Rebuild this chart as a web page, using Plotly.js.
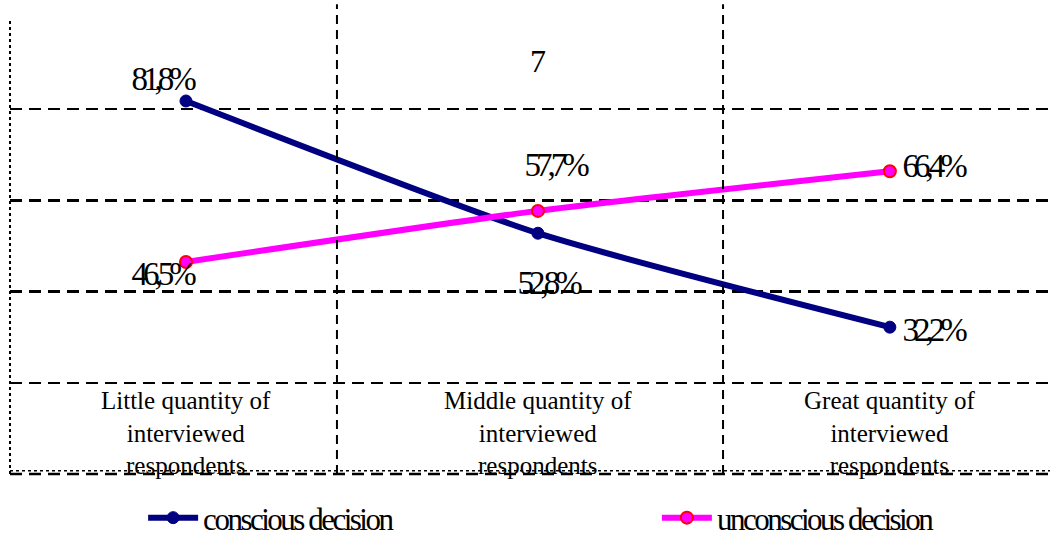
<!DOCTYPE html>
<html>
<head>
<meta charset="utf-8">
<script src="https://cdn.plot.ly/plotly-3.0.1.min.js"></script>
<style>
html,body{margin:0;padding:0;background:#fff;}
#chart{width:1057px;height:541px;}
.legendtext, .legend2text{letter-spacing:-2.5px !important;}
</style>
</head>
<body>
<div id="chart"></div>
<script>
// ---- data ----
const categories = ["Little quantity of<br>interviewed<br>respondents",
                    "Middle quantity of<br>interviewed<br>respondents",
                    "Great quantity of<br>interviewed<br>respondents"];
const seriesNames = ["conscious decision", "unconscious decision"];
const conscious = [81.8, 52.8, 32.2];
const unconscious = [46.5, 57.7, 66.4];
const consciousLabels = ["81,8%", "52,8%", "32,2%"];
const unconsciousLabels = ["46,5%", "57,7%", "66,4%"];
const chartNote = "7";

// ---- styling (label offsets in pixels) ----
const consciousShift = [[-24, 22], [10, -50], [43, -3]];
const unconsciousShift = [[-24, -12], [17, 46], [43, 5]];
const FONT = "Liberation Serif";
const xIdx = categories.map((c, i) => i);

const traces = [
  {
    x: xIdx, y: conscious, name: seriesNames[0], type: "scatter", mode: "lines+markers",
    legend: "legend",
    line: {color: "#000080", width: 6, shape: "spline", smoothing: 0.6},
    marker: {color: "#000080", size: 12, line: {color: "#000080", width: 1}}
  },
  {
    x: xIdx, y: unconscious, name: seriesNames[1], type: "scatter", mode: "lines+markers",
    legend: "legend2",
    line: {color: "#FF00FF", width: 6, shape: "spline", smoothing: 0.6},
    marker: {color: "#FF00FF", size: 12, line: {color: "#FF0000", width: 2}}
  }
];

const annotations = [];
conscious.forEach((v, i) => annotations.push({
  x: xIdx[i], y: v, xref: "x", yref: "y", text: consciousLabels[i], showarrow: false,
  xshift: consciousShift[i][0], yshift: consciousShift[i][1],
  font: {family: FONT, size: 33, color: "#000"}
}));
unconscious.forEach((v, i) => annotations.push({
  x: xIdx[i], y: v, xref: "x", yref: "y", text: unconsciousLabels[i], showarrow: false,
  xshift: unconsciousShift[i][0], yshift: unconsciousShift[i][1],
  font: {family: FONT, size: 33, color: "#000"}
}));
categories.forEach((c, i) => annotations.push({
  x: xIdx[i], y: 9, xref: "x", yref: "y", text: c, showarrow: false,
  font: {family: FONT, size: 25, color: "#000"}, align: "center"
}));
annotations.push({
  x: 1, y: 90.5, xref: "x", yref: "y", text: chartNote, showarrow: false,
  font: {family: FONT, size: 32, color: "#000"}
});

const DASH = "12px,7px";
const shapes = [
  {type: "line", xref: "x", yref: "paper", x0: 0.429, x1: 0.429, y0: 0, y1: 1.03,
   line: {color: "#000", width: 2, dash: "9px,6px"}},
  {type: "line", xref: "x", yref: "paper", x0: 1.526, x1: 1.526, y0: 0, y1: 1.03,
   line: {color: "#000", width: 2, dash: "9px,6px"}},
  {type: "line", xref: "paper", yref: "paper", x0: 0, x1: 0, y0: 0, y1: 1,
   line: {color: "#000", width: 2, dash: "dot"}},
  {type: "line", xref: "paper", yref: "paper", x0: 0, x1: 1, y0: 0, y1: 0,
   line: {color: "#000", width: 2.5, dash: DASH}},
  {type: "line", xref: "paper", yref: "paper", x0: 0, x1: 1, y0: 0.007, y1: 0.007,
   line: {color: "#000", width: 1.5, dash: "dot"}}
];

const legendCommon = {
  orientation: "h", xanchor: "left", y: -0.0965, yanchor: "middle",
  font: {family: FONT, size: 31, color: "#000"}, itemwidth: 50,
  bgcolor: "rgba(0,0,0,0)"
};

const layout = {
  width: 1057, height: 541,
  margin: {l: 10, r: 7, t: 18, b: 67, autoexpand: false},
  paper_bgcolor: "#fff", plot_bgcolor: "#fff",
  font: {family: FONT, color: "#000"},
  xaxis: {range: [-0.5, 2.455], showgrid: false, zeroline: false, showticklabels: false,
          ticks: "", showline: false, fixedrange: true},
  yaxis: {range: [0, 100], tickvals: [20, 40, 60, 80, 100], showgrid: true,
          gridcolor: "#000", gridwidth: 2.5, griddash: DASH, zeroline: false,
          showticklabels: false, ticks: "", showline: false, fixedrange: true},
  showlegend: true,
  legend: Object.assign({}, legendCommon, {x: 0.128}),
  legend2: Object.assign({}, legendCommon, {x: 0.622}),
  annotations: annotations,
  shapes: shapes
};

Plotly.newPlot("chart", traces, layout, {staticPlot: true}).then(() => {
  document.querySelectorAll(".annotation-text").forEach(t => {
    if (t.textContent.indexOf("%") >= 0) t.style.letterSpacing = "-5px";
  });
  document.querySelectorAll("g.legend text, g.legend2 text, text.legendtext").forEach(t => {
    t.style.letterSpacing = "-2.5px";
  });
});
</script>
</body>
</html>
